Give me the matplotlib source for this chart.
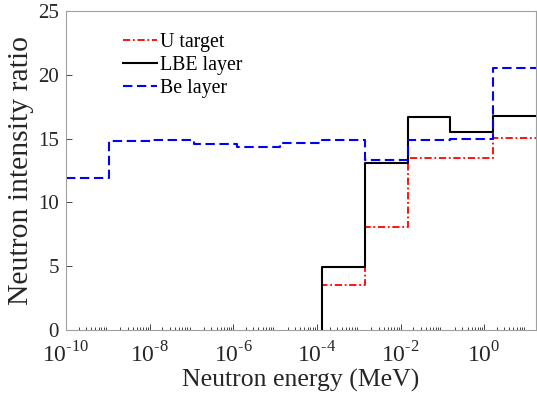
import numpy as np
import matplotlib.pyplot as plt
from matplotlib.ticker import LogLocator, NullFormatter, FixedLocator, FuncFormatter

# energy bin edges (MeV), 11 log-spaced groups
edges = [1e-10, 1.05e-9, 1.10e-8, 1.16e-7, 1.22e-6, 1.28e-5,
         1.35e-4, 1.41e-3, 1.49e-2, 0.156, 1.64, 17.2]

be_layer = [11.9, 14.8, 14.9, 14.6, 14.3, 14.65, 14.9, 13.35, 14.9, 14.95, 20.55]
# LBE and U target only start at the 7th group
lbe_layer = [4.9, 13.05, 16.7, 15.55, 16.75]
u_target = [3.5, 8.1, 13.45, 13.45, 15.05]

x_ticks = [1e-10, 1e-8, 1e-6, 1e-4, 1e-2, 1e0]
y_ticks = [0, 5, 10, 15, 20, 25]

plt.rcParams['font.family'] = 'Liberation Serif'
plt.rcParams['mathtext.fontset'] = 'custom'
plt.rcParams['mathtext.rm'] = 'Liberation Serif'

fig = plt.figure(figsize=(5.37, 4.03), dpi=100)
ax = fig.add_axes([0.1229, 0.181, 0.875, 0.792])

def stair(vals, start):
    x = edges[start:]
    y = list(vals) + [vals[-1]]
    if start > 0:
        x = [x[0]] + list(x)
        y = [0] + y
    return x, y

x, y = stair(u_target, 6)
ax.plot(x, y, drawstyle='steps-post', color='red', ls=(0, (4, 1.5, 1, 1.5)), lw=1.3, label='U target')
x, y = stair(lbe_layer, 6)
ax.plot(x, y, drawstyle='steps-post', color='black', ls='-', lw=1.5, label='LBE layer')
x, y = stair(be_layer, 0)
ax.plot(x, y, drawstyle='steps-post', color='blue', ls=(0, (4.5, 2.2)), lw=1.5, label='Be layer')

ax.set_xscale('log')
ax.set_xlim(1e-10, 17.2)
ax.set_ylim(0, 25)
ax.xaxis.set_major_locator(FixedLocator(x_ticks))
ax.xaxis.set_major_formatter(FuncFormatter(
    lambda v, p: r'$\mathregular{10}^{\text{%d}}$' % round(np.log10(v))))
ax.xaxis.set_minor_locator(LogLocator(base=10, subs=np.arange(2, 10), numticks=30))
ax.xaxis.set_minor_formatter(NullFormatter())
ax.set_yticks(y_ticks)

ax.tick_params(direction='in', which='both', labelsize=15, colors='#262626', length=4, width=0.6)
ax.tick_params(which='minor', length=2)
ax.tick_params(axis='x', which='major', pad=9, labelsize=17)
ax.tick_params(axis='y', pad=5)
for s in ax.spines.values():
    s.set_color('#a0a0a0')
    s.set_linewidth(0.8)

ax.set_xlabel('Neutron energy (MeV)', fontsize=18.5, color='#262626', labelpad=1)
ax.set_ylabel('Neutron intensity ratio', fontsize=21.3, color='#262626', labelpad=3)

ax.legend(loc='upper left', bbox_to_anchor=(0.121, 0.93), frameon=False, fontsize=14.3,
          handlelength=1.7, handletextpad=0.15, labelspacing=0.2, borderaxespad=0,
          borderpad=0)

fig.savefig('out.png', dpi=100)
